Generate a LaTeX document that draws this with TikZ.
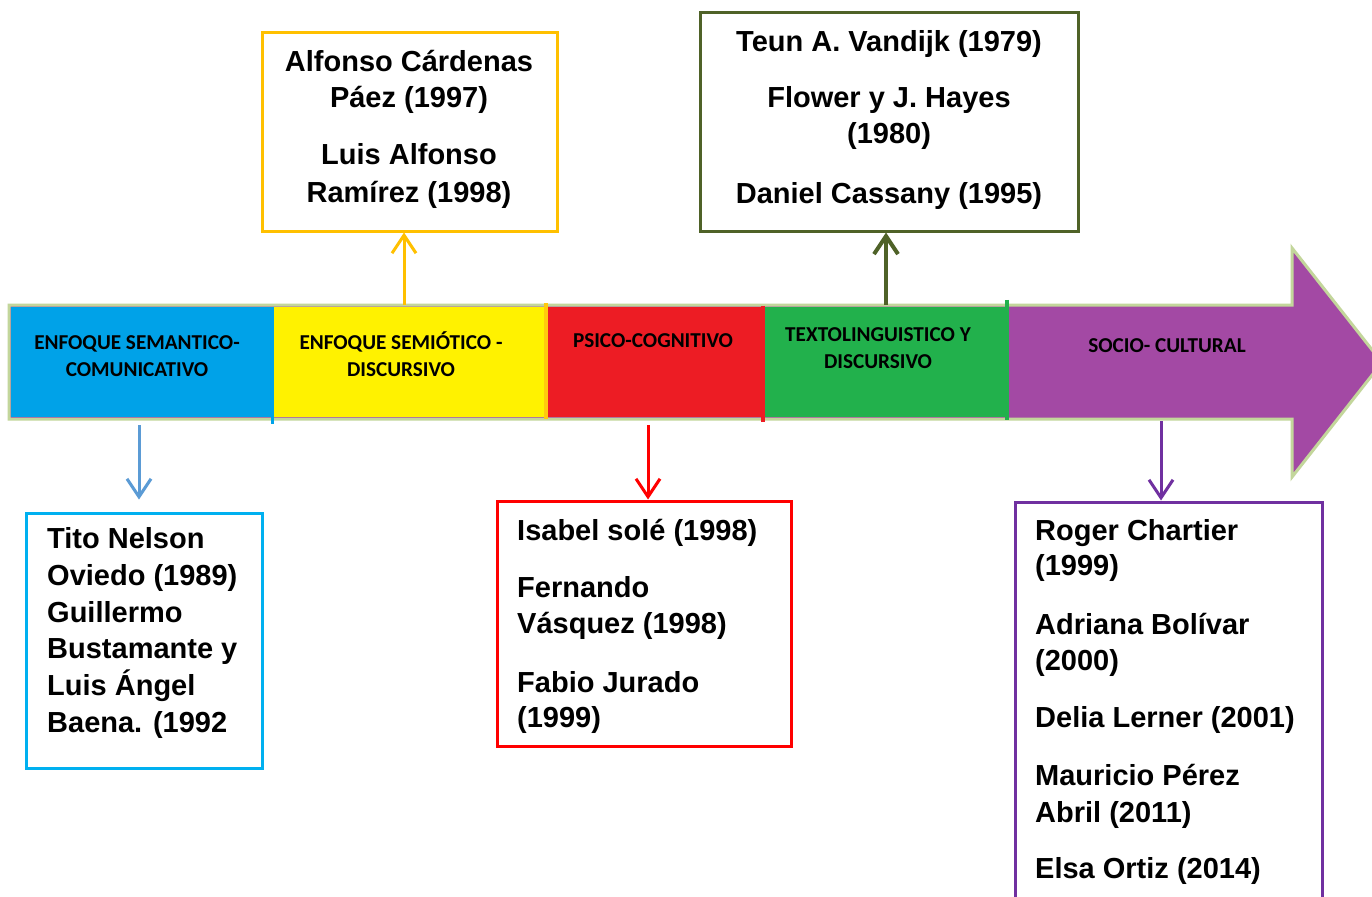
\documentclass[tikz,border=0pt]{standalone}
\usepackage{fontspec}
\setmainfont{Liberation Sans}
\newfontfamily\calib{Carlito}
\usetikzlibrary{arrows.meta}
\definecolor{cBlue}{HTML}{00A2E8}
\definecolor{cYellow}{HTML}{FFF200}
\definecolor{cRed}{HTML}{ED1C24}
\definecolor{cGreen}{HTML}{22B14C}
\definecolor{cPurple}{HTML}{A349A4}
\definecolor{cEdge}{HTML}{C3D69B}
\definecolor{cOrange}{HTML}{FFC000}
\definecolor{cTickY}{HTML}{FFC90E}
\definecolor{cOlive}{HTML}{4F6228}
\definecolor{cSky}{HTML}{00B0F0}
\definecolor{cArrB}{HTML}{5B9BD5}
\definecolor{cBoxR}{HTML}{FF0000}
\definecolor{cViolet}{HTML}{7030A0}
\tikzset{
  boxtxt/.style={inner sep=0pt, font=\fontsize{29}{35}\selectfont\bfseries},
  bandtxt/.style={inner sep=0pt, font=\calib\fontsize{21.2}{25}\selectfont\bfseries},
  frame/.style={draw, line width=3pt, inner sep=0pt, fill=white},
  seg/.style={inner sep=0pt, minimum height=110pt, draw=none},
  conn/.style={line width=3pt, -{Straight Barb[length=18pt,width=24pt]}},
}
\begin{document}
\begin{tikzpicture}[x=1pt,y=-1pt]
\useasboundingbox (0,0) rectangle (1372,896);
\clip (0,0) rectangle (1372,896);
\fill[white] (0,0) rectangle (1372,896);
% band outline with arrow head
\draw[cEdge, line width=3pt, fill=cPurple] (9,305) -- (1292,305) -- (1292,248) -- (1382,362.5) -- (1292,477) -- (1292,419) -- (9,419) -- cycle;
% segments
\node[seg, fill=cBlue, minimum width=261pt] (s1) at (141.5,362) {};
\node[seg, fill=cYellow, minimum width=274pt] (s2) at (409,362) {};
\node[seg, fill=cRed, minimum width=217pt] (s3) at (654.5,362) {};
\node[seg, fill=cGreen, minimum width=244pt] (s4) at (885,362) {};
\node[seg, fill=cPurple, minimum width=285pt] (s5) at (1149.5,362) {};
% boundary ticks
\draw[cBlue, line width=3pt] (s1.north east) -- ([yshift=-7pt]s1.south east);
\draw[cTickY, line width=4pt] ([yshift=4pt]s2.north east) -- ([yshift=-2pt]s2.south east);
\draw[cRed, line width=4pt] ([yshift=1pt]s3.north east) -- ([yshift=-5pt]s3.south east);
\draw[cGreen, line width=4pt] ([yshift=7pt]s4.north east) -- ([yshift=-3pt]s4.south east);
% band labels
\node[bandtxt, anchor=base] (l1a) at (137,349) {ENFOQUE SEMANTICO-};
\node[bandtxt, anchor=base] (l1b) at (137,376) {COMUNICATIVO};
\node[bandtxt, anchor=base] (l2a) at (401,349) {ENFOQUE SEMIÓTICO -};
\node[bandtxt, anchor=base] (l2b) at (401,376) {DISCURSIVO};
\node[bandtxt, anchor=base] (l3) at (653,347) {PSICO-COGNITIVO};
\node[bandtxt, anchor=base] (l4a) at (878,341) {TEXTOLINGUISTICO Y};
\node[bandtxt, anchor=base] (l4b) at (878,368) {DISCURSIVO};
\node[bandtxt, anchor=base] (l5) at (1167,352) {SOCIO- CULTURAL};
% boxes
\node[frame, draw=cOrange, minimum width=295pt, minimum height=198pt] (yb) at (409.5,132) {};
\node[frame, draw=cOlive, minimum width=378pt, minimum height=218pt] (gb) at (889,122) {};
\node[frame, draw=cSky, minimum width=236pt, minimum height=255pt] (bb) at (144,640.5) {};
\node[frame, draw=cBoxR, minimum width=294pt, minimum height=245pt] (rb) at (644,623.5) {};
\node[frame, draw=cViolet, minimum width=307pt, minimum height=408pt] (pb) at (1168.5,706) {};
% yellow box text
\node[boxtxt, anchor=base] (y1) at (409,72) {Alfonso Cárdenas};
\node[boxtxt, anchor=base] (y2) at (409,108) {Páez (1997)};
\node[boxtxt, anchor=base] (y3) at (409,165) {Luis Alfonso};
\node[boxtxt, anchor=base] (y4) at (409,202) {Ramírez (1998)};
% green box text
\node[boxtxt, anchor=base] (g1) at (889,52) {Teun A. Vandijk (1979)};
\node[boxtxt, anchor=base] (g2) at (889,108) {Flower y J. Hayes};
\node[boxtxt, anchor=base] (g3) at (889,144) {(1980)};
\node[boxtxt, anchor=base] (g4) at (889,203) {Daniel Cassany (1995)};
% blue box text
\node[boxtxt, anchor=base west] (b1) at (47,548) {Tito Nelson};
\node[boxtxt, anchor=base west] (b2) at (47,585) {Oviedo (1989)};
\node[boxtxt, anchor=base west] (b3) at (47,622) {Guillermo};
\node[boxtxt, anchor=base west] (b4) at (47,658) {Bustamante y};
\node[boxtxt, anchor=base west] (b5) at (47,695) {Luis Ángel};
\node[boxtxt, anchor=base west] (b6) at (47,732) {Baena. (1992};
% red box text
\node[boxtxt, anchor=base west] (r1) at (517,540) {Isabel solé (1998)};
\node[boxtxt, anchor=base west] (r2) at (517,597) {Fernando};
\node[boxtxt, anchor=base west] (r3) at (517,633) {Vásquez (1998)};
\node[boxtxt, anchor=base west] (r4) at (517,692) {Fabio Jurado};
\node[boxtxt, anchor=base west] (r5) at (517,727) {(1999)};
% purple box text
\node[boxtxt, anchor=base west] (p1) at (1035,540) {Roger Chartier};
\node[boxtxt, anchor=base west] (p2) at (1035,575) {(1999)};
\node[boxtxt, anchor=base west] (p3) at (1035,634) {Adriana Bolívar};
\node[boxtxt, anchor=base west] (p4) at (1035,670) {(2000)};
\node[boxtxt, anchor=base west] (p5) at (1035,727) {Delia Lerner (2001)};
\node[boxtxt, anchor=base west] (p6) at (1035,785) {Mauricio Pérez};
\node[boxtxt, anchor=base west] (p7) at (1035,822) {Abril (2011)};
\node[boxtxt, anchor=base west] (p8) at (1035,878) {Elsa Ortiz (2014)};
% connectors
\coordinate (ca) at (404,305);
\coordinate (cb) at (886,305);
\coordinate (cc) at (139,425);
\coordinate (cd) at (648,425);
\coordinate (ce) at (1161,421);
\draw[conn, cOrange] (ca) -- (ca |- yb.south);
\draw[conn, cOlive, line width=4pt] (cb) -- (cb |- gb.south);
\draw[conn, cArrB, shorten >=12pt] (cc) -- (cc |- bb.north);
\draw[conn, cBoxR] (cd) -- (cd |- rb.north);
\draw[conn, cViolet] (ce) -- (ce |- pb.north);
\end{tikzpicture}
\end{document}
